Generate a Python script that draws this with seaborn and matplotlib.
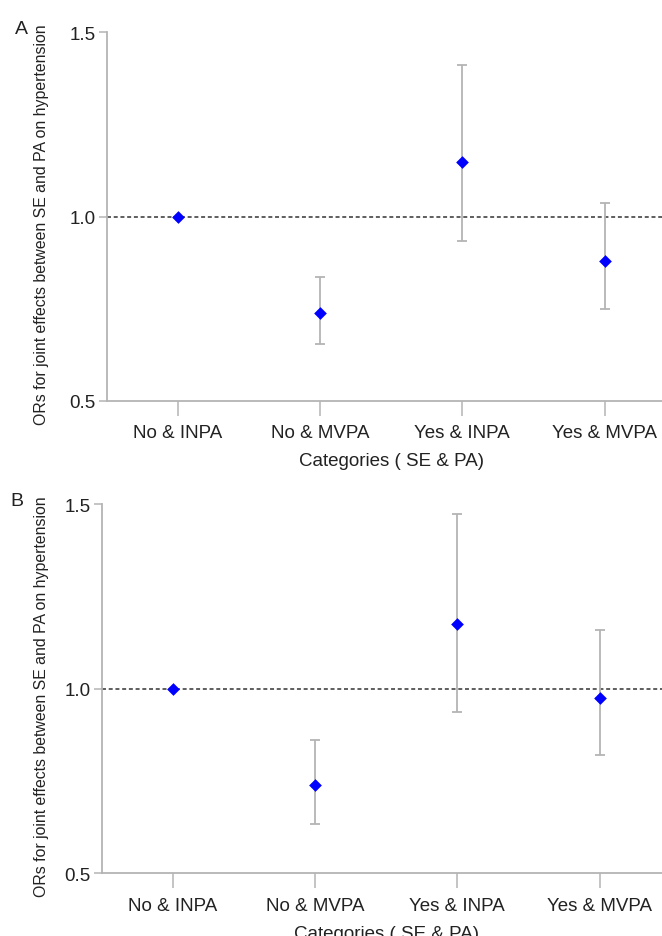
import pandas as pd
import matplotlib
matplotlib.use("Agg")
import matplotlib.pyplot as plt
import seaborn as sns

# categories ( SE & PA)
categories = ["No & INPA", "No & MVPA", "Yes & INPA", "Yes & MVPA"]

# panel A: ORs and 95% CI
or_a = [1.00, 0.739, 1.148, 0.880]
lo_a = [1.00, 0.654, 0.934, 0.748]
hi_a = [1.00, 0.837, 1.410, 1.037]

# panel B: ORs and 95% CI
or_b = [1.00, 0.740, 1.176, 0.975]
lo_b = [1.00, 0.634, 0.938, 0.821]
hi_b = [1.00, 0.862, 1.474, 1.158]

yticks = [0.5, 1.0, 1.5]

sns.set_style("white")
plt.rcParams['font.family'] = ['Liberation Sans', 'DejaVu Sans']

W, H = 662, 937
fig = plt.figure(figsize=(W / 100, H / 100), dpi=100)

# axes boxes in pixels: left spine, top (1.5), bottom (0.5)
boxes = [(106.7, 33.3, 401.7), (101.7, 505.0, 874.3)]
panels = [("A", or_a, lo_a, hi_a, (21.7, 30)), ("B", or_b, lo_b, hi_b, (17.3, 501.7))]

grey = "#b4b4b4"
for (left, top, bottom), (tag, ors, lo, hi, tagpos) in zip(boxes, panels):
    ax = fig.add_axes([left / W, 1 - bottom / H, 569 / W, (bottom - top) / H])
    df = pd.DataFrame({"cat": categories, "OR": ors, "lo": lo, "hi": hi})

    ax.axhline(1.0, color="#333333", lw=1.1, dashes=(2.6, 1.8), zorder=1)
    ax.errorbar(df["cat"], df["OR"],
                yerr=[df["OR"] - df["lo"], df["hi"] - df["OR"]],
                fmt="none", ecolor=grey, elinewidth=1.3, capsize=3.4,
                capthick=1.3, zorder=2)
    sns.scatterplot(data=df, x="cat", y="OR", marker="D", color="#0000ff",
                    s=42, edgecolor="#0000ff", linewidth=0, ax=ax, zorder=3)

    ax.set_xlim(-0.5, 3.5)
    ax.set_ylim(0.5, 1.5)
    ax.set_yticks(yticks)
    ax.set_yticklabels([f"{v:.1f}" for v in yticks])

    sns.despine(ax=ax, top=True, right=True)
    for side in ["left", "bottom"]:
        ax.spines[side].set_color(grey)
        ax.spines[side].set_linewidth(1.3)
    ax.tick_params(axis="y", direction="out", length=6, width=1.1, color=grey,
                   labelsize=13.5, labelcolor="#222222", pad=2, left=True)
    ax.tick_params(axis="x", direction="out", length=11, width=1.1, color=grey,
                   labelsize=13.5, labelcolor="#222222", pad=6, bottom=True)

    ax.set_xlabel("Categories ( SE & PA)", fontsize=13.5, color="#222222")
    ax.set_ylabel("ORs for joint effects between SE and PA on hypertension",
                  fontsize=11.4, color="#222222")
    ax.xaxis.set_label_coords(0.5, -0.139)
    ax.yaxis.set_label_coords(-(left - 49) / 569, 0.48)

    fig.text(tagpos[0] / W, 1 - tagpos[1] / H, tag, fontsize=14,
             ha="center", va="center", color="#222222")

fig.savefig("out.png", dpi=100)
